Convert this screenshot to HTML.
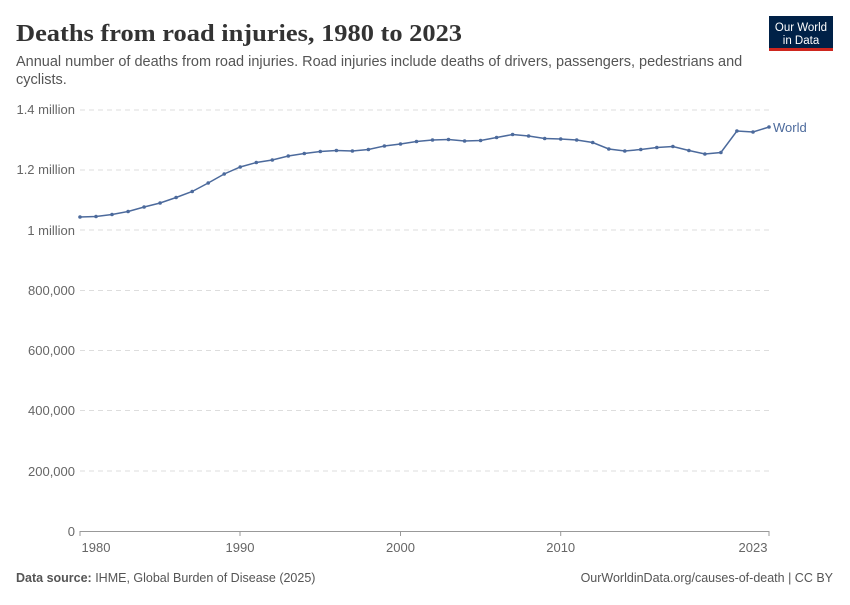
<!DOCTYPE html>
<html><head><meta charset="utf-8"><style>
body{margin:0;background:#fff;width:850px;height:600px;overflow:hidden;font-family:"Liberation Sans",sans-serif}
</style></head><body>
<svg width="850" height="600" xmlns="http://www.w3.org/2000/svg" font-family="Liberation Sans, sans-serif">
<defs><marker id="d" markerWidth="4" markerHeight="4" refX="2" refY="2" markerUnits="userSpaceOnUse"><circle cx="2" cy="2" r="1.8" fill="#4c6a9c"/></marker></defs>
<text x="16" y="41" font-family="Liberation Serif, serif" font-size="24" font-weight="bold" fill="#333" textLength="446" lengthAdjust="spacingAndGlyphs">Deaths from road injuries, 1980 to 2023</text>
<text x="16" y="66" font-size="14.5" fill="#555">Annual number of deaths from road injuries. Road injuries include deaths of drivers, passengers, pedestrians and</text>
<text x="16" y="84" font-size="14.5" fill="#555">cyclists.</text>
<rect x="769" y="16" width="64" height="35" fill="#002147"/>
<rect x="769" y="48" width="64" height="3" fill="#ce261e"/>
<text x="801" y="31" font-size="11.5" fill="#fff" text-anchor="middle">Our World</text>
<text x="801" y="44" font-size="11.5" fill="#fff" text-anchor="middle">in Data</text>
<g stroke="#ddd" stroke-dasharray="5,4">
<line x1="80" x2="769" y1="110" y2="110"/><line x1="80" x2="769" y1="170" y2="170"/><line x1="80" x2="769" y1="230" y2="230"/><line x1="80" x2="769" y1="290.5" y2="290.5"/><line x1="80" x2="769" y1="350.5" y2="350.5"/><line x1="80" x2="769" y1="410.5" y2="410.5"/><line x1="80" x2="769" y1="471" y2="471"/>
</g>
<line x1="80" x2="769" y1="531.5" y2="531.5" stroke="#999"/>
<g font-size="13" fill="#666" text-anchor="end">
<text x="75" y="114">1.4 million</text><text x="75" y="174">1.2 million</text><text x="75" y="235">1 million</text><text x="75" y="295">800,000</text><text x="75" y="355">600,000</text><text x="75" y="415">400,000</text><text x="75" y="476">200,000</text><text x="75" y="536">0</text>
</g>
<g stroke="#999"><line x1="80" x2="80" y1="531" y2="536"/><line x1="240" x2="240" y1="531" y2="536"/><line x1="400.5" x2="400.5" y1="531" y2="536"/><line x1="560.7" x2="560.7" y1="531" y2="536"/><line x1="769" x2="769" y1="531" y2="536"/></g>
<g font-size="13" fill="#666" text-anchor="middle">
<text x="96" y="552">1980</text><text x="240" y="552">1990</text><text x="400.5" y="552">2000</text><text x="560.7" y="552">2010</text><text x="753" y="552">2023</text>
</g>
<polyline fill="none" stroke="#4c6a9c" stroke-width="1.5" marker-start="url(#d)" marker-mid="url(#d)" marker-end="url(#d)" points="80,217 96,216.5 112,214.5 128.1,211.5 144.1,207 160.1,203 176.1,197.5 192.2,191.5 208.2,183 224.2,174 240.2,167 256.3,162.5 272.3,160 288.3,156 304.3,153.5 320.3,151.5 336.4,150.5 352.4,151 368.4,149.5 384.4,146 400.5,144 416.5,141.5 432.5,140 448.5,139.5 464.6,141 480.6,140.5 496.6,137.5 512.6,134.5 528.6,136 544.7,138.5 560.7,139 576.7,140 592.7,142.5 608.8,149 624.8,151 640.8,149.5 656.8,147.5 672.9,146.5 688.9,150.5 704.9,154 720.9,152.5 736.9,131 753,132 769,127"/>
<text x="773" y="132" font-size="13" fill="#4c6a9c">World</text>
<text x="16" y="582" font-size="12.5" fill="#555"><tspan font-weight="bold">Data source:</tspan> IHME, Global Burden of Disease (2025)</text>
<text x="833" y="582" font-size="12.5" fill="#555" text-anchor="end">OurWorldinData.org/causes-of-death | CC BY</text>
</svg>
</body></html>
